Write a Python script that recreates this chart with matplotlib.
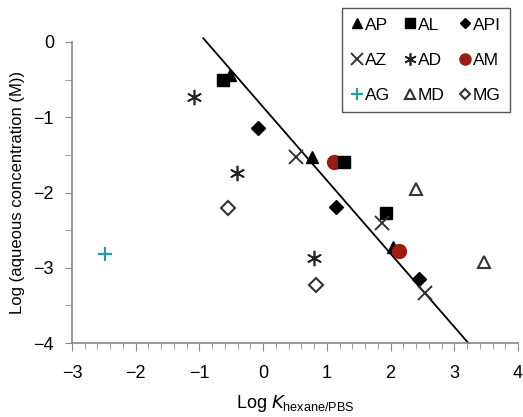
import matplotlib
matplotlib.use('Agg')
import matplotlib.pyplot as plt
from matplotlib.ticker import MultipleLocator

plt.rcParams['font.family'] = ['Liberation Sans', 'DejaVu Sans']
plt.rcParams['font.size'] = 12

# data (log K, log aqueous conc.)
ap_x = [-0.52, 0.77, 2.04]
ap_y = [-0.44, -1.53, -2.72]
al_x = [-0.63, 1.27, 1.93]
al_y = [-0.50, -1.59, -2.27]
api_x = [-0.08, 1.14, 2.45]
api_y = [-1.14, -2.19, -3.15]
az_x = [0.52, 1.87, 2.54]
az_y = [-1.53, -2.40, -3.33]
ad_x = [-1.08, -0.41, 0.80]
ad_y = [-0.73, -1.74, -2.87]
am_x = [1.11, 2.13]
am_y = [-1.60, -2.78]
ag_x = [-2.48]
ag_y = [-2.82]
md_x = [2.40, 3.47]
md_y = [-1.95, -2.92]
mg_x = [-0.55, 0.83]
mg_y = [-2.20, -3.23]

fit_x = [-0.94, 3.22]
fit_y = [0.05, -4.0]

fig = plt.figure(figsize=(5.23, 4.17), dpi=100)
ax = fig.add_axes([72/523, 74/417, 446/523, 301/417])

ax.plot(fit_x, fit_y, color='black', lw=1.3, clip_on=False, zorder=1)

ax.plot(ap_x, ap_y, '^', color='black', ms=9, label='AP', zorder=3)
ax.plot(am_x, am_y, 'o', color='#9b1c14', ms=10, label='AM', zorder=4)
ax.plot(al_x, al_y, 's', color='black', ms=9, label='AL', zorder=5)
ax.plot(api_x, api_y, 'D', color='black', ms=7, label='API', zorder=5)
ax.plot(az_x, az_y, 'x', color='#333333', ms=10, mew=1.4, label='AZ', zorder=5)
ax.plot(ad_x, ad_y, marker=(6, 2, 0), ls='none', color='#222222', ms=11, mew=1.2, label='AD', zorder=5)
ax.plot(ag_x, ag_y, '+', color='#2a9a98', ms=10, mew=1.6, label='AG', zorder=5)
ax.plot(md_x, md_y, '^', mfc='white', mec='#333333', mew=1.5, ms=9, label='MD', zorder=5)
ax.plot(mg_x, mg_y, 'D', mfc='white', mec='#333333', mew=1.5, ms=7, label='MG', zorder=5)

ax.set_xlim(-3, 4)
ax.set_ylim(-4, 0)
ax.xaxis.set_major_locator(MultipleLocator(1))
ax.xaxis.set_minor_locator(MultipleLocator(0.2))
ax.yaxis.set_major_locator(MultipleLocator(1))
ax.yaxis.set_minor_locator(MultipleLocator(0.5))

for s in ['top', 'right']:
    ax.spines[s].set_visible(False)
for s in ['left', 'bottom']:
    ax.spines[s].set_color('#888888')
    ax.spines[s].set_linewidth(1.2)

ax.tick_params(axis='x', which='major', direction='out', length=6, color='#888888', pad=10, labelsize=13)
ax.tick_params(axis='x', which='minor', direction='out', length=4, color='#888888')
ax.tick_params(axis='y', which='both', direction='out', length=5, color='#888888', pad=8, labelsize=13)

ax.set_xlabel(r'Log $\mathit{K}_{\mathregular{hexane/PBS}}$', fontsize=13, labelpad=8)
ax.set_ylabel('Log (aqueous concentration (M))', fontsize=12, labelpad=6)

handles, labels = ax.get_legend_handles_labels()
order = ['AP', 'AZ', 'AG', 'AL', 'AD', 'MD', 'API', 'AM', 'MG']
h = [handles[labels.index(k)] for k in order]
leg = ax.legend(h, order, ncol=3, loc='upper right', bbox_to_anchor=(0.99, 1.125),
                fontsize=12.5, handlelength=0.6, handletextpad=0.15, columnspacing=0.85,
                labelspacing=1.15, borderpad=0.55, borderaxespad=0.2, fancybox=False,
                framealpha=1, edgecolor='#555555', markerscale=0.8)
leg.get_frame().set_linewidth(1.0)

fig.savefig('out.png', dpi=100)
